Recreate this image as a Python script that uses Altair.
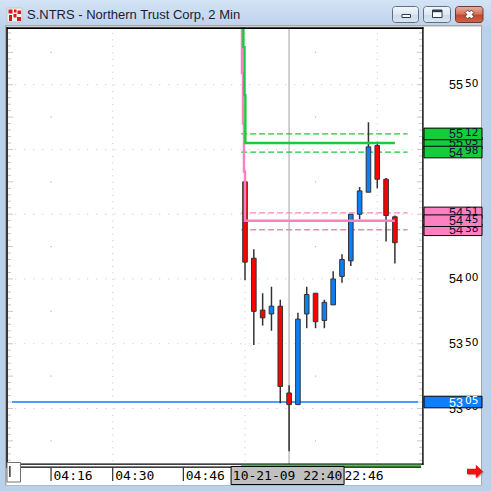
import altair as alt
import pandas as pd

TITLE = "S.NTRS - Northern Trust Corp, 2 Min"

# 2-minute bars; bar 0 is the first bar of the session on screen
bar_no = list(range(18))
bar_open = [54.75, 54.16, 53.76, 53.73, 53.79, 53.12, 53.03, 53.73, 53.89, 53.68,
            53.80, 54.02, 54.14, 54.50, 54.67, 55.03, 54.77, 54.48]
bar_high = [54.77, 54.23, 53.89, 53.94, 53.84, 53.18, 53.74, 53.94, 53.89, 53.84,
            54.06, 54.19, 54.50, 54.71, 55.21, 55.06, 54.78, 54.49]
bar_low = [53.99, 53.49, 53.64, 53.60, 53.04, 52.67, 53.03, 53.62, 53.62, 53.62,
           53.80, 53.97, 54.10, 54.46, 54.67, 54.70, 54.29, 54.12]
bar_close = [54.13, 53.75, 53.70, 53.79, 53.17, 53.03, 53.69, 53.88, 53.67, 53.82,
             54.00, 54.15, 54.50, 54.68, 55.02, 54.77, 54.49, 54.28]

# horizontal price levels and their tags on the price scale
level_tag = ["5512", "5505", "5498", "5451", "5445", "5438", "5305"]
level_price = [55.12, 55.05, 54.98, 54.51, 54.45, 54.38, 53.05]
level_group = ["green", "green", "green", "pink", "pink", "pink", "blue"]
level_kind = ["band", "main", "band", "band", "main", "band", "last"]
level_from = [-0.44, 0, -0.44, -0.44, 0, -0.44, -26.45]
level_to = [18.44, 17, 18.44, 18.44, 17, 18.44, 19.65]

# step trails running into the two main levels
green_trail_bar = [-0.18, -0.18, -0.06, -0.06, 0.04, 0.04, 17]
green_trail_price = [55.94, 55.79, 55.79, 55.42, 55.42, 55.05, 55.05]
pink_trail_bar = [-0.35, -0.35, -0.23, -0.23, -0.12, -0.12, 0, 0, 17]
pink_trail_price = [55.94, 55.59, 55.59, 55.20, 55.20, 54.83, 54.83, 54.45, 54.45]

# price scale labels
axis_price = [53.00, 53.50, 54.00, 54.50, 55.00, 55.50]
axis_tag = ["5300", "5350", "5400", "5450", "5500", "5550"]

# time scale labels (bar numbers)
time_bar = [-22, -15, -7, 11]
time_tag = ["04:16", "04:30", "04:46", "22:46"]
cursor_bar = [5]
cursor_tag = ["10-21-09 22:40"]

GROUP_COLOR = {"green": "#14cc3c", "pink": "#ff80c0", "blue": "#0a80ff"}
TAG_TEXT = {"green": "#101030", "pink": "#101030", "blue": "#ffffff"}

W = H = 491
XS = alt.Scale(domain=[-245 / 9, 246 / 9], nice=False, zero=False)
YS = alt.Scale(domain=[52.363, 56.154], nice=False, zero=False)

BIG_FONT = dict(font="Liberation Sans", fontSize=12.5)
SMALL_FONT = dict(font="DejaVu Sans", fontSize=10.5)


def xq(field):
    return alt.X(field, type="quantitative", scale=XS, axis=None)


def yq(field):
    return alt.Y(field, type="quantitative", scale=YS, axis=None)


def x2q(field):
    return alt.X2(field)


one = pd.DataFrame({"k": [0]})


def rect(x1, y1, x2, y2, **kw):
    return alt.Chart(one).mark_rect(**kw).encode(
        x=alt.value(x1), y=alt.value(y1), x2=alt.value(x2), y2=alt.value(y2))


def grad(stops):
    return alt.Gradient(gradient="linear", x1=0, x2=0, y1=0, y2=1,
                        stops=[alt.GradientStop(color=c, offset=o) for o, c in stops])


candles = pd.DataFrame({"bar": bar_no, "open": bar_open, "high": bar_high,
                        "low": bar_low, "close": bar_close})
levels = pd.DataFrame({"tag": level_tag, "price": level_price, "group": level_group,
                       "kind": level_kind, "a": level_from, "b": level_to})
levels["color"] = levels["group"].map(GROUP_COLOR)
levels["ink"] = levels["group"].map(TAG_TEXT)
levels["big"] = levels["tag"].str[:2]
levels["small"] = levels["tag"].str[2:]

axis_df = pd.DataFrame({"price": axis_price, "tag": axis_tag})
axis_df["big"] = axis_df["tag"].str[:2]
axis_df["small"] = axis_df["tag"].str[2:]

layers = []

# ---------------- window chrome ----------------
layers.append(rect(0, 0, W, 26, fill=grad([(0, "#d4e3f5"), (1, "#bdd3ec")])))
layers.append(rect(7, 8, 22, 22, fill="#f4f4f4", stroke="#c4c4c4", strokeWidth=1))
for bx in [(8.5, 9.5, 12.5, 13.5), (14, 9.5, 16.5, 12.5), (17.5, 10.5, 21, 14),
           (9, 15, 12, 21), (13.5, 14, 16.5, 17.5), (17, 17, 21, 21)]:
    layers.append(rect(*bx, fill="#e01818"))
layers.append(alt.Chart(one).mark_text(
    text=TITLE, align="left", baseline="middle", font="Liberation Sans",
    fontSize=13, color="#1b1b33").encode(x=alt.value(27), y=alt.value(14.5)))

btn = grad([(0, "#f4f7fb"), (0.5, "#dde6f1"), (0.55, "#cfdbea"), (1, "#dbe5f1")])
layers.append(rect(392.5, 6.5, 418.5, 22.5, fill=btn, stroke="#5d6e86", strokeWidth=1, cornerRadius=3))
layers.append(rect(423.5, 6.5, 450.5, 22.5, fill=btn, stroke="#5d6e86", strokeWidth=1, cornerRadius=3))
layers.append(rect(455.5, 6.5, 483, 22.5,
                   fill=grad([(0, "#eab0a2"), (0.45, "#d57560"), (0.55, "#c4472f"), (1, "#d0634a")]),
                   stroke="#6b3a30", strokeWidth=1, cornerRadius=3))
layers.append(rect(402, 14.5, 410.5, 17.5, fill="white", stroke="#2b3a4e", strokeWidth=1))
layers.append(rect(432.5, 10, 442, 17.5, fill="white", stroke="#2b3a4e", strokeWidth=1))
layers.append(rect(432.5, 10, 442, 12.2, fill="#2b3a4e"))
layers.append(alt.Chart(one).mark_point(
    shape="cross", angle=45, size=80, filled=True, fill="white", stroke="#4a2a22",
    strokeWidth=0.8, opacity=1).encode(x=alt.value(469.5), y=alt.value(14.5)))

# chart panel
layers.append(rect(5, 25, 482, 485.5, fill="#a8a8a8"))
layers.append(rect(6.5, 26.5, 481, 485, fill="white"))

# ---------------- faint grid ----------------
grid_rows = pd.DataFrame({"price": axis_price, "a": -26.06, "b": 19.1})
layers.append(alt.Chart(grid_rows).mark_rule(
    color="#c4c4c4", strokeWidth=1, strokeDash=[1, 8]).encode(
    x=xq("a"), x2=x2q("b"), y=yq("price")))

grid_cols = pd.DataFrame({"bar": [-15, 0, 15], "top": 55.90, "bottom": 52.58})
layers.append(alt.Chart(grid_cols).mark_rule(
    color="#c4c4c4", strokeWidth=1, strokeDash=[1, 5.475]).encode(
    x=xq("bar"), y=yq("top"), y2=alt.Y2("bottom")))

sparse = pd.DataFrame([{"bar": b, "price": p} for b in (-22, 8)
                       for p in (52.75, 53.25, 53.75, 54.25, 54.75, 55.25, 55.75)])
layers.append(alt.Chart(sparse).mark_square(size=1.5, color="#b8b8b8", opacity=1).encode(
    x=xq("bar"), y=yq("price")))

edge = pd.DataFrame({"price": [round(52.60 + 0.05 * k, 2) for k in range(67)]})
edge["long"] = (edge["price"] * 100).round().astype(int) % 25 == 0
for x_in, x_out_s, x_out_l in [(8, 11, 13), (422, 419, 417)]:
    layers.append(alt.Chart(edge).transform_filter("!datum.long").mark_rule(
        color="#c8c8c8", strokeWidth=1).encode(
        x=alt.value(x_in), x2=alt.value(x_out_s), y=yq("price")))
    layers.append(alt.Chart(edge).transform_filter("datum.long").mark_rule(
        color="#c8c8c8", strokeWidth=1).encode(
        x=alt.value(x_in), x2=alt.value(x_out_l), y=yq("price")))

# cursor line
layers.append(alt.Chart(pd.DataFrame({"bar": cursor_bar})).mark_rule(
    color="#c0c0c0", strokeWidth=1.5).encode(
    x=xq("bar"), y=alt.value(28), y2=alt.value(464)))

# ---------------- level lines behind the bars ----------------
layers.append(alt.Chart(levels).transform_filter("datum.kind == 'last'").mark_rule(
    strokeWidth=1.5).encode(x=xq("a"), x2=x2q("b"), y=yq("price"),
                            color=alt.Color("color:N", scale=None)))
layers.append(alt.Chart(levels).transform_filter("datum.kind == 'band'").mark_rule(
    strokeWidth=1.3, strokeDash=[6, 3]).encode(x=xq("a"), x2=x2q("b"), y=yq("price"),
                                               color=alt.Color("color:N", scale=None)))

# ---------------- candlesticks ----------------
up = alt.datum.close > alt.datum.open
layers.append(alt.Chart(candles).mark_rule(color="#333333", strokeWidth=1.5).encode(
    x=xq("bar"), y=yq("low"), y2=alt.Y2("high")))
layers.append(alt.Chart(candles).mark_bar(width=4.6, stroke="#333333", strokeWidth=1).encode(
    x=xq("bar"), y=yq("open"), y2=alt.Y2("close"),
    fill=alt.when(up).then(alt.value("#0a7ff9")).otherwise(alt.value("#ff0000"))))

# ---------------- trails and main levels (pink under green) ----------------
for tb, tp, col in [(pink_trail_bar, pink_trail_price, GROUP_COLOR["pink"]),
                    (green_trail_bar, green_trail_price, GROUP_COLOR["green"])]:
    trail = pd.DataFrame({"bar": tb, "price": tp, "seq": range(len(tb))})
    layers.append(alt.Chart(trail).mark_line(color=col, strokeWidth=2.4).encode(
        x=xq("bar"), y=yq("price"), order="seq:Q"))

# ---------------- panel borders and time strip ----------------
layers.append(rect(6.5, 27.2, 423.5, 29, fill="black"))
layers.append(rect(6.3, 27.2, 7.8, 467.7, fill="black"))
layers.append(rect(422.2, 27.2, 423.6, 464.7, fill="black"))
layers.append(rect(6.5, 463.5, 423.6, 464.7, fill="black"))
layers.append(rect(241, 464.7, 421, 466.8, fill="#1ee61e"))
layers.append(rect(6.5, 466.6, 421, 467.7, fill="black"))

times = pd.DataFrame({"bar": time_bar, "tag": time_tag})
layers.append(alt.Chart(times).mark_rule(color="black", strokeWidth=1).encode(
    x=xq("bar"), y=alt.value(468), y2=alt.value(481)))
layers.append(alt.Chart(times).mark_text(
    align="left", baseline="middle", dx=2.5, font="DejaVu Sans Mono", fontSize=13,
    color="black").encode(x=xq("bar"), y=alt.value(475.5), text="tag:N"))

cursor = pd.DataFrame({"bar": cursor_bar, "tag": cursor_tag})
layers.append(alt.Chart(cursor).mark_point(
    shape="M-1,-0.16H1V0.16H-1Z", size=113 ** 2, filled=True, fill="#c0c0c0",
    stroke="black", strokeWidth=1, opacity=1).encode(
    x=xq("bar"), y=alt.value(475.5), xOffset=alt.value(-1.5)))
layers.append(alt.Chart(cursor).mark_text(
    align="center", baseline="middle", dx=-1.5, font="DejaVu Sans Mono", fontSize=13,
    color="black").encode(x=xq("bar"), y=alt.value(475.5), text="tag:N"))

layers.append(rect(7, 462.5, 20.5, 482, fill="white", stroke="#707070", strokeWidth=1))
layers.append(rect(9.3, 466, 10.5, 477, fill="black"))

ARROW = "M-1,-0.35L0.1,-0.35L0.1,-0.85L1,0L0.1,0.85L0.1,0.35L-1,0.35Z"
layers.append(alt.Chart(one).mark_point(
    shape=ARROW, size=256, filled=True, fill="#9a7a7a", opacity=0.6).encode(
    x=alt.value(476), y=alt.value(472.5)))
layers.append(alt.Chart(one).mark_point(
    shape=ARROW, size=256, filled=True, fill="#ee1111", opacity=1).encode(
    x=alt.value(475), y=alt.value(471.5)))

# ---------------- price scale ----------------
layers.append(alt.Chart(axis_df).mark_text(
    align="right", baseline="alphabetic", dy=4.5, color="black", **BIG_FONT).encode(
    x=alt.value(463), y=yq("price"), text="big:N"))
layers.append(alt.Chart(axis_df).mark_text(
    align="left", baseline="alphabetic", dy=2.0, color="black", **SMALL_FONT).encode(
    x=alt.value(465), y=yq("price"), text="small:N"))

BOX = "M-1,-0.2H1V0.2H-1Z"
for tag in ["5505", "5498", "5512", "5438", "5451", "5445", "5305"]:
    row = levels[levels["tag"] == tag]
    layers.append(alt.Chart(row).mark_point(
        shape=BOX, size=58 ** 2, filled=True, stroke="black", strokeWidth=1,
        opacity=1).encode(x=alt.value(453), y=yq("price"),
                          fill=alt.Fill("color:N", scale=None)))
    layers.append(alt.Chart(row).mark_text(
        align="right", baseline="alphabetic", dy=4.5, **BIG_FONT).encode(
        x=alt.value(463), y=yq("price"), text="big:N",
        color=alt.Color("ink:N", scale=None)))
    layers.append(alt.Chart(row).mark_text(
        align="left", baseline="alphabetic", dy=2.0, **SMALL_FONT).encode(
        x=alt.value(465), y=yq("price"), text="small:N",
        color=alt.Color("ink:N", scale=None)))

chart = alt.layer(*layers).properties(
    width=W, height=H, padding=0, autosize="none", background="#b9d1ea"
).configure_view(stroke=None)

chart.save("out.html", embed_options={"renderer": "svg", "actions": False})
